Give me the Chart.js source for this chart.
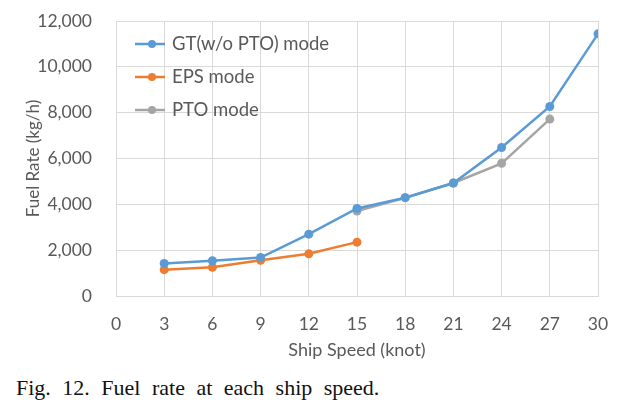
<!DOCTYPE html>
<html>
<head>
<meta charset="utf-8">
<script src="https://cdn.jsdelivr.net/npm/chart.js@4.4.0/dist/chart.umd.min.js"></script>
<style>
  body { margin: 0; background: #fff; }
  #wrap { position: relative; width: 633px; height: 410px; }
  #box { position: absolute; left: 0; top: 0; width: 633px; height: 365px; }
  #cap {
    position: absolute; left: 16px; top: 375px;
    font-family: "Liberation Serif", "DejaVu Serif", serif;
    font-size: 22px; word-spacing: 6px; color: #111;
  }
</style>
</head>
<body>
<div id="wrap">
  <div id="box"><canvas id="myChart"></canvas></div>
  <div id="cap">Fig. 12. Fuel rate at each ship speed.</div>
</div>
<script>
// speeds (knot) and fuel rates (kg/h)
var gtSpeed = [3, 6, 9, 12, 15, 18, 21, 24, 27, 30];
var gtFuel = [1420, 1540, 1680, 2700, 3820, 4290, 4930, 6480, 8270, 11440];
var epsSpeed = [3, 6, 9, 12, 15];
var epsFuel = [1150, 1250, 1560, 1840, 2350];
var ptoSpeed = [15, 18, 21, 24, 27];
var ptoFuel = [3710, 4290, 4930, 5790, 7720];
var xTicks = [0, 3, 6, 9, 12, 15, 18, 21, 24, 27, 30];
var yTicks = [0, 2000, 4000, 6000, 8000, 10000, 12000];

function pts(xs, ys) {
    return xs.map(function (x, i) { return { x: x, y: ys[i] }; });
}

var font = 'Lato, "Open Sans", sans-serif';
var grey = '#595959';

// legend drawn inside the plot, like the excel one
var innerLegend = {
    id: 'innerLegend',
    afterDatasetsDraw: function (chart) {
        var c = chart.ctx, a = chart.chartArea;
        c.save();
        chart.data.datasets.forEach(function (ds, i) {
            var y = a.top + 23 + i * 33;
            var x = a.left + 19;
            c.strokeStyle = ds.borderColor;
            c.lineWidth = 2.5;
            c.beginPath(); c.moveTo(x, y); c.lineTo(x + 30, y); c.stroke();
            c.fillStyle = ds.borderColor;
            c.beginPath(); c.arc(x + 17, y, 4, 0, Math.PI * 2); c.fill();
            c.fillStyle = grey;
            c.font = '18.5px ' + font;
            c.textBaseline = 'middle';
            c.fillText(ds.label, x + 37, y);
        });
        c.restore();
    }
};

var ctx = document.getElementById('myChart').getContext('2d');
var myChart = new Chart(ctx, {
    type: 'line',
    data: {
        datasets: [{
            label: 'GT(w/o PTO) mode',
            data: pts(gtSpeed, gtFuel),
            borderColor: '#5B9BD5',
            backgroundColor: '#5B9BD5'
        }, {
            label: 'EPS mode',
            data: pts(epsSpeed, epsFuel),
            borderColor: '#ED7D31',
            backgroundColor: '#ED7D31'
        }, {
            label: 'PTO mode',
            data: pts(ptoSpeed, ptoFuel),
            borderColor: '#A5A5A5',
            backgroundColor: '#A5A5A5'
        }]
    },
    options: {
        responsive: true,
        maintainAspectRatio: false,
        animation: false,
        layout: { padding: { top: 21, right: 35, left: 0, bottom: 0 } },
        elements: {
            line: { borderWidth: 2.5, tension: 0 },
            point: { radius: 4.5, borderWidth: 0 }
        },
        plugins: { legend: { display: false }, tooltip: { enabled: false } },
        scales: {
            x: {
                type: 'linear', min: 0, max: 30,
                afterBuildTicks: function (s) { s.ticks = xTicks.map(function (v) { return { value: v }; }); },
                afterFit: function (s) { s.height = 69; },
                grid: { color: '#D9D9D9', drawTicks: false },
                border: { color: '#D9D9D9' },
                ticks: { padding: 18, color: grey, font: { family: font, size: 17.5 } },
                title: { display: true, text: 'Ship Speed (knot)', color: grey, font: { family: font, size: 18 }, padding: { top: 2 } }
            },
            y: {
                min: 0, max: 12000,
                afterBuildTicks: function (s) { s.ticks = yTicks.map(function (v) { return { value: v }; }); },
                afterFit: function (s) { s.width = 116; s.paddingTop = 0; s.paddingBottom = 0; },
                grid: { color: '#D9D9D9', drawTicks: false },
                border: { display: false },
                ticks: {
                    padding: 24, color: grey, font: { family: font, size: 17.5 },
                    callback: function (v) { return v.toLocaleString('en-US'); }
                },
                title: { display: true, text: 'Fuel Rate (kg/h)', color: grey, font: { family: font, size: 17 }, padding: { top: 23, bottom: 0 } }
            }
        }
    },
    plugins: [innerLegend]
});
</script>
</body>
</html>
